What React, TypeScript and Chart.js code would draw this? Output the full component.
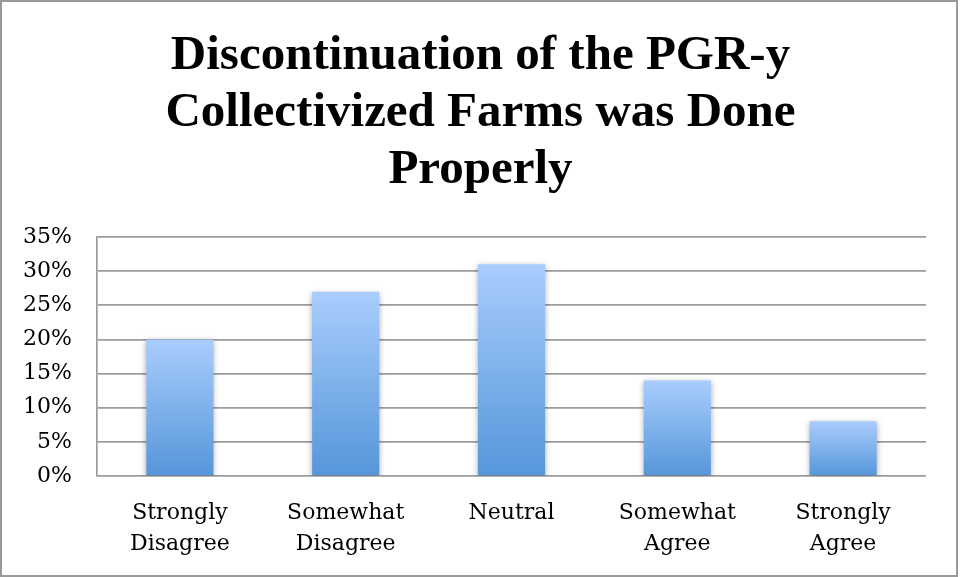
import React, { useEffect, useRef } from "react";
import { Chart, registerables } from "chart.js";

Chart.register(...registerables);

const titleLines = ["Discontinuation of the PGR-y", "Collectivized Farms was Done", "Properly"];
const categories: string[][] = [
  ["Strongly", "Disagree"],
  ["Somewhat", "Disagree"],
  ["Neutral"],
  ["Somewhat", "Agree"],
  ["Strongly", "Agree"],
];
const values = [20, 27, 31, 14, 8];
const yMin = 0;
const yMax = 35;
const yStep = 5;

const framePlugin = {
  id: "frame",
  beforeDraw(chart: any) {
    const ctx = chart.ctx;
    ctx.save();
    ctx.fillStyle = "#ffffff";
    ctx.fillRect(0, 0, chart.width, chart.height);
    ctx.restore();
  },
  beforeDatasetsDraw(chart: any) {
    const ctx = chart.ctx;
    ctx.save();
    ctx.shadowColor = "rgba(0,0,0,0.35)";
    ctx.shadowBlur = 6;
    ctx.shadowOffsetX = 0;
    ctx.shadowOffsetY = 2;
  },
  afterDatasetsDraw(chart: any) {
    chart.ctx.restore();
  },
  afterDraw(chart: any) {
    const ctx = chart.ctx;
    ctx.save();
    ctx.strokeStyle = "#9a9a9a";
    ctx.lineWidth = 2;
    ctx.strokeRect(1, 1, 956, 575);
    ctx.restore();
  },
};

export default function App() {
  const ref = useRef<HTMLCanvasElement | null>(null);

  useEffect(() => {
    if (!ref.current) return;
    const chart = new Chart(ref.current, {
      type: "bar",
      data: {
        labels: categories,
        datasets: [
          {
            data: values,
            backgroundColor: (c: any) => {
              const ch = c.chart;
              const y = ch.scales && ch.scales.y;
              if (!y || c.raw === undefined) return "#7fb0ee";
              const top = y.getPixelForValue(c.raw);
              const bottom = y.getPixelForValue(0);
              if (!isFinite(top) || !isFinite(bottom) || top === bottom) return "#7fb0ee";
              const g = ch.ctx.createLinearGradient(0, top, 0, bottom);
              g.addColorStop(0, "#a9cdfd");
              g.addColorStop(1, "#5596da");
              return g;
            },
            borderWidth: 0,
            barPercentage: 0.81,
            categoryPercentage: 0.5,
          },
        ],
      },
      options: {
        responsive: false,
        animation: false,
        layout: { padding: { left: 0, right: 0, top: 0, bottom: 0 } },
        plugins: {
          legend: { display: false },
          tooltip: { enabled: false },
          title: {
            display: true,
            text: titleLines,
            color: "#000000",
            font: { family: "'Liberation Serif', serif", size: 49, weight: "bold", lineHeight: "57px" } as any,
            padding: { top: 28, bottom: 38 },
          },
        },
        scales: {
          x: {
            grid: { display: false, drawTicks: false },
            border: { display: false },
            ticks: {
              color: "#000000",
              font: { family: "'DejaVu Serif', serif", size: 22, lineHeight: "31px" } as any,
              padding: 22,
              maxRotation: 0,
              autoSkip: false,
            },
            afterFit: (s: any) => {
              s.height = 101;
            },
          },
          y: {
            min: yMin,
            max: yMax,
            grid: { color: "#9c9c9c", lineWidth: 1.7, drawTicks: false },
            border: { display: true, color: "#9c9c9c", width: 1.7 },
            ticks: {
              stepSize: yStep,
              color: "#000000",
              font: { family: "'DejaVu Serif', serif", size: 22 },
              padding: 25,
              callback: (v: any) => `${v}%`,
            },
            afterFit: (s: any) => {
              s.width = 97;
            },
          },
          y2: {
            position: "right",
            min: yMin,
            max: yMax,
            grid: { display: false, drawTicks: false },
            border: { display: false },
            ticks: { display: false },
            afterFit: (s: any) => {
              s.width = 35;
            },
          },
        },
      },
      plugins: [framePlugin],
    });
    return () => chart.destroy();
  }, []);

  return (
    <div style={{ position: "absolute", left: 0, top: 0, width: 961, height: 577 }}>
      <canvas ref={ref} width={961} height={577} style={{ display: "block" }} />
    </div>
  );
}
